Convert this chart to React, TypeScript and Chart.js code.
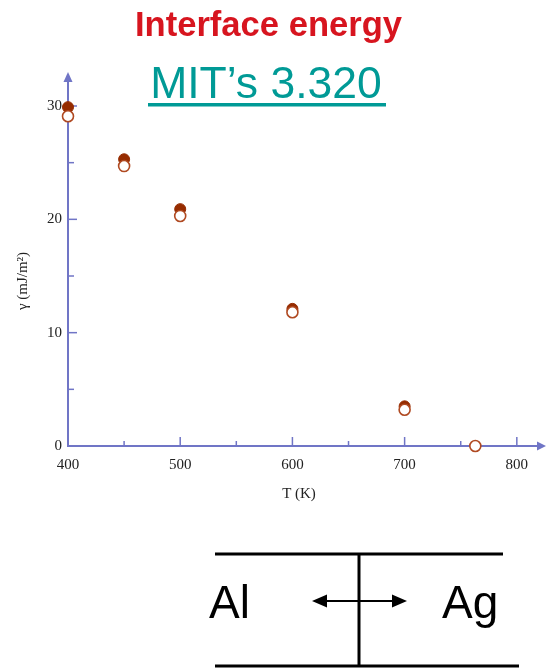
import React, { useEffect, useRef } from "react";
import { Chart, registerables } from "chart.js";

Chart.register(...registerables);

// ---- data ----
const tempsFilled = [400, 450, 500, 600, 700];
const gammaFilled = [29.9, 25.3, 20.9, 12.1, 3.5];
const tempsOpen = [400, 450, 500, 600, 700, 763];
const gammaOpen = [29.1, 24.7, 20.3, 11.8, 3.2, 0];

const xTickValues = [400, 450, 500, 550, 600, 650, 700, 750, 800];
const yTickValues = [0, 5, 10, 15, 20, 25, 30];
const xMin = 400;
const xMax = 826;
const yMin = 0;
const yMax = 33;

const AXIS_COLOR = "#7075c6";
const SERIF = "'Liberation Serif', 'Times New Roman', serif";
const SANS = "'Liberation Sans', Arial, sans-serif";

const axesPlugin = {
  id: "customAxes",
  beforeDatasetsDraw(chart: any) {
    const ctx = chart.ctx;
    const xs = chart.scales.x;
    const ys = chart.scales.y;
    const x0 = xs.getPixelForValue(xMin);
    const y0 = ys.getPixelForValue(yMin);
    const right = chart.chartArea.right;
    const top = chart.chartArea.top;
    ctx.save();
    ctx.strokeStyle = AXIS_COLOR;
    ctx.fillStyle = AXIS_COLOR;
    ctx.lineWidth = 2;
    // x axis
    ctx.beginPath();
    ctx.moveTo(x0, y0);
    ctx.lineTo(right - 6, y0);
    ctx.stroke();
    ctx.beginPath();
    ctx.moveTo(right, y0);
    ctx.lineTo(right - 9, y0 - 4.5);
    ctx.lineTo(right - 9, y0 + 4.5);
    ctx.closePath();
    ctx.fill();
    // y axis
    ctx.beginPath();
    ctx.moveTo(x0, y0 + 1);
    ctx.lineTo(x0, top + 6);
    ctx.stroke();
    ctx.beginPath();
    ctx.moveTo(x0, top);
    ctx.lineTo(x0 - 4.5, top + 10);
    ctx.lineTo(x0 + 4.5, top + 10);
    ctx.closePath();
    ctx.fill();
    // ticks
    ctx.lineWidth = 1.5;
    xTickValues.forEach((v) => {
      if (v === xMin) return;
      const px = xs.getPixelForValue(v);
      const len = v % 100 === 0 ? 9 : 5;
      ctx.beginPath();
      ctx.moveTo(px, y0);
      ctx.lineTo(px, y0 - len);
      ctx.stroke();
    });
    yTickValues.forEach((v) => {
      if (v === yMin) return;
      const py = ys.getPixelForValue(v);
      const len = v % 10 === 0 ? 9 : 6;
      ctx.beginPath();
      ctx.moveTo(x0, py);
      ctx.lineTo(x0 + len, py);
      ctx.stroke();
    });
    ctx.restore();
  },
  afterDraw(chart: any) {
    const ctx = chart.ctx;
    ctx.save();
    ctx.fillStyle = "#222";
    ctx.font = `15px ${SERIF}`;
    ctx.textAlign = "center";
    ctx.textBaseline = "middle";
    ctx.fillText("T (K)", 299, 494);
    ctx.translate(23, 281);
    ctx.rotate(-Math.PI / 2);
    ctx.fillText("\u03b3 (mJ/m\u00b2)", 0, 0);
    ctx.restore();
  },
};

function ChartCanvas() {
  const ref = useRef<HTMLCanvasElement | null>(null);
  useEffect(() => {
    if (!ref.current) return;
    const chart = new Chart(ref.current, {
      type: "scatter",
      data: {
        datasets: [
          {
            label: "open",
            data: tempsOpen.map((t, i) => ({ x: t, y: gammaOpen[i] })),
            pointRadius: 5.5,
            pointBackgroundColor: "#ffffff",
            pointBorderColor: "#b04a22",
            pointBorderWidth: 1.6,
            clip: false as any,
            order: 1,
          },
          {
            label: "filled",
            data: tempsFilled.map((t, i) => ({ x: t, y: gammaFilled[i] })),
            pointRadius: 5.5,
            pointBackgroundColor: "#962c00",
            pointBorderColor: "#962c00",
            pointBorderWidth: 1,
            clip: false as any,
            order: 2,
          },
        ],
      },
      options: {
        animation: false,
        responsive: false,
        layout: { autoPadding: false, padding: { top: 72, right: 2, left: 0, bottom: 0 } },
        plugins: {
          legend: { display: false },
          tooltip: { enabled: false },
          title: { display: false },
        },
        scales: {
          x: {
            type: "linear",
            min: xMin,
            max: xMax,
            grid: { display: false, drawTicks: false },
            border: { display: false },
            afterBuildTicks: (s: any) => {
              s.ticks = xTickValues.map((v) => ({ value: v }));
            },
            afterFit: (s: any) => {
              s.height = 74;
              s.paddingLeft = 0;
              s.paddingRight = 0;
            },
            ticks: {
              padding: 10,
              color: "#222",
              font: { family: SERIF, size: 15 },
              maxRotation: 0,
              autoSkip: false,
              callback: (v: any) => (Number(v) % 100 === 0 ? String(v) : ""),
            },
          },
          y: {
            type: "linear",
            min: yMin,
            max: yMax,
            grid: { display: false, drawTicks: false },
            border: { display: false },
            afterBuildTicks: (s: any) => {
              s.ticks = yTickValues.map((v) => ({ value: v }));
            },
            afterFit: (s: any) => {
              s.width = 68;
            },
            ticks: {
              padding: 6,
              color: "#222",
              font: { family: SERIF, size: 15 },
              autoSkip: false,
              callback: (v: any) => (Number(v) % 10 === 0 ? String(v) : ""),
            },
          },
        },
      },
      plugins: [axesPlugin],
    });
    return () => chart.destroy();
  }, []);
  return (
    <canvas
      ref={ref}
      width={548}
      height={520}
      style={{ position: "absolute", left: 0, top: 0, width: 548, height: 520 }}
    />
  );
}

export default function App() {
  return (
    <div
      style={{
        position: "absolute",
        left: 0,
        top: 0,
        width: 548,
        height: 671,
        background: "#fff",
        overflow: "hidden",
      }}
    >
      <ChartCanvas />
      <svg
        width={548}
        height={671}
        style={{ position: "absolute", left: 0, top: 0, pointerEvents: "none" }}
      >
        <text
          x={268.5}
          y={36}
          textAnchor="middle"
          fontFamily={SANS}
          fontWeight="bold"
          fontSize={34.6}
          fill="#d7151f"
        >
          Interface energy
        </text>
        <text
          x={266}
          y={98}
          textAnchor="middle"
          fontFamily={SANS}
          fontSize={44.5}
          fill="#009a96"
        >
          MIT’s 3.320
        </text>
        <rect x={148} y={103} width={238} height={3.5} fill="#009a96" />

        <line x1={215} y1={554} x2={503} y2={554} stroke="#000" strokeWidth={3} />
        <line x1={215} y1={666} x2={519} y2={666} stroke="#000" strokeWidth={3} />
        <line x1={359} y1={554} x2={359} y2={667} stroke="#000" strokeWidth={3} />
        <line x1={322} y1={601} x2={397} y2={601} stroke="#000" strokeWidth={2} />
        <polygon points="312,601 327,594.5 327,607.5" fill="#000" />
        <polygon points="407,601 392,594.5 392,607.5" fill="#000" />
        <text x={209} y={618} fontFamily={SANS} fontSize={46} fill="#000">
          Al
        </text>
        <text x={442} y={618} fontFamily={SANS} fontSize={46} fill="#000">
          Ag
        </text>
      </svg>
    </div>
  );
}
